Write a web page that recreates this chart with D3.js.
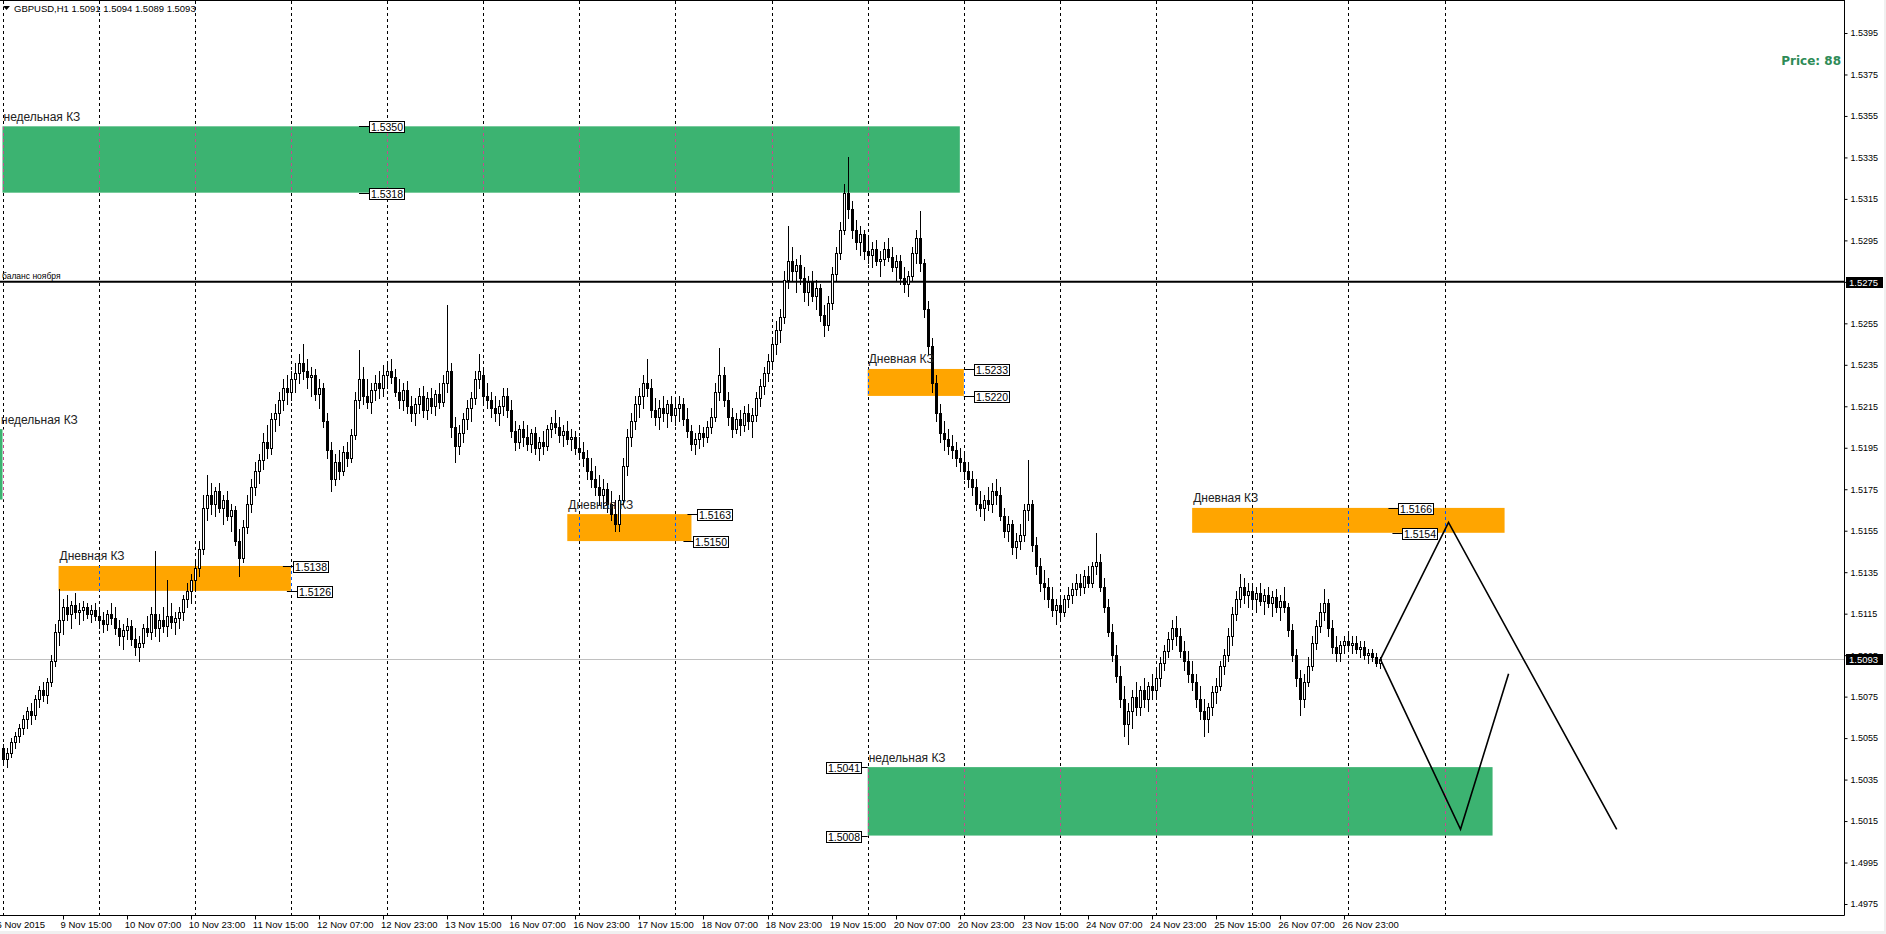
<!DOCTYPE html>
<html><head><meta charset="utf-8">
<script src="https://cdnjs.cloudflare.com/ajax/libs/d3/7.8.5/d3.min.js"></script>
<style>
html,body{margin:0;padding:0;background:#fff;overflow:hidden}
svg{display:block;font-family:"Liberation Sans",Arial,sans-serif}
</style></head><body>
<div id="chart"></div>
<script>
const W = 1886, H = 934;
const plotRight = 1844, plotBottom = 915;

// GBPUSD H1 bars, [open, high, low, close] in pips above 1.5000
const BASE = 1.5, PIP = 0.0001;
const nov09 = [[50,52,42,45],[45,50,41,48],[48,55,46,53],[53,58,50,56],[56,62,53,60],[60,66,57,64],[64,70,60,68],[68,72,62,66],[66,76,64,74],[74,80,70,78],[78,82,73,76],[76,84,72,82],[82,95,80,92],[92,110,90,106],[106,127,100,112],[112,122,105,118],[118,124,112,115],[115,121,108,119],[119,125,113,116],[116,120,110,117],[117,121,112,118],[118,120,113,115],[115,119,111,117],[117,120,112,114]];
const nov10 = [[114,118,108,112],[112,116,106,110],[110,117,107,115],[115,120,110,113],[113,118,105,108],[108,112,100,104],[104,110,98,107],[107,113,103,109],[109,112,100,103],[103,108,95,99],[99,104,92,101],[101,110,99,108],[108,114,104,106],[106,118,103,115],[115,145,104,108],[108,115,102,112],[112,118,106,109],[109,131,104,114],[114,120,108,111],[111,116,105,113],[113,118,108,116],[116,124,112,122],[122,130,118,126],[126,134,120,131]];
const nov11 = [[131,140,126,137],[137,150,133,146],[146,172,144,166],[166,182,160,172],[172,178,163,168],[168,176,162,174],[174,178,164,166],[166,172,158,170],[170,174,160,162],[162,168,155,165],[165,167,148,150],[150,156,133,142],[142,160,140,157],[157,172,154,168],[168,180,164,176],[176,188,172,184],[184,192,178,189],[189,202,185,198],[198,206,190,195],[195,212,192,209],[209,216,203,212],[212,222,206,218],[218,228,213,224],[224,230,216,222]];
const nov12 = [[222,232,218,228],[228,236,222,231],[231,240,226,236],[236,245,228,232],[232,238,224,229],[229,234,220,230],[230,233,218,221],[221,228,214,224],[224,226,205,208],[208,212,190,194],[194,198,174,180],[180,192,177,188],[188,194,180,184],[184,196,182,193],[193,198,186,190],[190,204,188,201],[201,222,199,218],[218,242,214,228],[228,234,216,220],[220,228,214,217],[217,226,212,223],[223,230,218,226],[226,232,219,224],[224,235,220,230]];
const nov13 = [[230,236,224,232],[232,238,226,229],[229,233,220,222],[222,228,214,218],[218,226,213,223],[223,227,212,215],[215,220,208,212],[212,219,206,216],[216,224,212,220],[220,225,210,213],[213,222,209,219],[219,224,212,215],[215,223,211,221],[221,226,214,217],[217,230,215,226],[226,264,222,232],[232,236,200,205],[205,210,188,196],[196,206,192,202],[202,212,198,209],[209,218,204,214],[214,222,208,219],[219,232,216,228],[228,240,224,232]];
const nov16 = [[230,234,216,220],[220,226,214,218],[218,222,210,214],[214,220,208,212],[212,218,206,215],[215,224,211,220],[220,224,210,213],[213,218,200,203],[203,208,194,198],[198,206,195,204],[204,208,196,200],[200,206,194,197],[197,204,193,202],[202,205,192,195],[195,200,189,198],[198,203,192,196],[196,206,194,204],[204,210,200,207],[207,213,202,205],[205,210,198,201],[201,206,196,203],[203,208,197,199],[199,204,194,200],[200,203,192,195]];
const nov17 = [[195,200,190,193],[193,198,186,190],[190,194,180,184],[184,190,176,180],[180,186,172,176],[176,182,168,172],[172,180,166,175],[175,178,164,168],[168,174,160,163],[163,170,155,158],[158,172,155,170],[170,190,168,186],[186,204,182,200],[200,212,196,208],[208,220,204,216],[216,224,210,220],[220,230,214,226],[226,238,220,224],[224,228,210,213],[213,219,206,210],[210,218,204,214],[214,220,208,212],[212,218,205,216],[216,220,208,211]];
const nov18 = [[211,218,206,214],[214,220,208,216],[216,219,206,209],[209,214,200,203],[203,206,194,197],[197,202,192,199],[199,206,195,202],[202,205,196,200],[200,208,198,205],[205,214,202,210],[210,226,208,222],[222,243,218,230],[230,234,215,218],[218,222,206,210],[210,214,200,204],[204,212,202,209],[209,213,201,206],[206,215,203,212],[212,216,204,208],[208,214,200,211],[211,222,208,219],[219,228,215,225],[225,234,221,231],[231,240,227,237]];
const nov19 = [[237,248,234,245],[245,256,240,252],[252,262,246,258],[258,280,255,276],[276,302,272,285],[285,292,276,280],[280,286,270,283],[283,288,274,277],[277,282,266,270],[270,278,264,275],[275,280,266,268],[268,276,262,272],[272,274,256,259],[259,264,249,254],[254,268,252,265],[265,282,262,279],[279,292,276,289],[289,304,286,300],[300,322,298,318],[318,335,306,310],[310,314,296,300],[300,305,291,294],[294,302,288,298],[298,300,286,290]];
const nov20 = [[290,296,284,288],[288,294,282,291],[291,295,283,285],[285,290,278,286],[286,294,283,291],[291,296,285,287],[287,292,280,282],[282,288,276,285],[285,288,274,277],[277,282,270,274],[274,280,268,278],[278,292,276,289],[289,300,284,296],[296,309,280,284],[284,286,258,262],[262,266,240,244],[244,248,222,226],[226,230,208,212],[212,216,198,202],[202,208,194,199],[199,204,192,196],[196,201,190,194],[194,198,186,190],[190,195,184,188]];
const nov23 = [[188,192,180,184],[184,188,176,180],[180,184,172,176],[176,180,165,168],[168,174,162,166],[166,172,160,170],[170,176,165,168],[168,178,164,174],[174,180,168,172],[172,176,160,162],[162,166,152,155],[155,162,150,158],[158,160,144,147],[147,154,142,150],[150,158,146,153],[153,168,150,165],[165,189,160,168],[168,170,145,148],[148,152,134,138],[138,142,126,130],[130,136,122,128],[128,132,118,122],[122,128,114,117],[117,122,110,119]];
const nov24 = [[119,124,112,116],[116,124,114,122],[122,128,118,124],[124,130,120,127],[127,134,124,130],[130,134,124,128],[128,136,125,133],[133,138,128,130],[130,140,128,138],[138,154,134,140],[140,144,126,128],[128,132,116,118],[118,122,104,106],[106,110,92,95],[95,100,82,85],[85,90,70,74],[74,80,56,62],[62,72,52,68],[68,78,60,75],[75,82,66,70],[70,80,66,78],[78,84,70,74],[74,82,68,80],[80,86,74,78]];
const nov25 = [[78,88,74,84],[84,94,80,91],[91,100,88,97],[97,106,94,103],[103,112,98,108],[108,114,100,104],[104,108,94,97],[97,102,88,92],[92,97,82,86],[86,92,78,82],[82,86,70,74],[74,80,64,68],[68,74,56,64],[64,72,58,70],[70,80,66,77],[77,84,72,80],[80,92,78,90],[90,98,86,95],[95,108,92,104],[104,118,100,115],[115,126,112,122],[122,134,118,128],[128,132,120,124],[124,130,118,126]];
const nov26 = [[126,130,118,122],[122,128,116,125],[125,130,119,121],[121,127,115,124],[124,128,118,120],[120,126,114,123],[123,127,116,118],[118,124,112,121],[121,128,116,118],[118,120,104,107],[107,110,92,95],[95,98,80,84],[84,88,66,74],[74,86,70,82],[82,94,80,90],[90,104,88,101],[101,112,98,109],[109,120,106,116],[116,127,112,120],[120,122,104,108],[108,112,96,99],[99,104,92,96],[96,102,92,100],[100,104,96,102]];
const nov27 = [[102,106,97,100],[100,104,96,101],[101,104,96,98],[98,102,94,99],[99,102,93,95],[95,98,91,96],[96,98,92,94],[94,96,90,91],[91,94,89,93]];
const days = [nov09, nov10, nov11, nov12, nov13, nov16, nov17, nov18, nov19, nov20, nov23, nov24, nov25, nov26, nov27];

const priceTicks = [1.5395,1.5375,1.5355,1.5335,1.5315,1.5295,1.5275,1.5255,1.5235,1.5215,1.5195,1.5175,1.5155,1.5135,1.5115,1.5095,1.5075,1.5055,1.5035,1.5015,1.4995,1.4975];
const timeLabels = ["6 Nov 2015","9 Nov 15:00","10 Nov 07:00","10 Nov 23:00","11 Nov 15:00","12 Nov 07:00","12 Nov 23:00","13 Nov 15:00","16 Nov 07:00","16 Nov 23:00","17 Nov 15:00","18 Nov 07:00","18 Nov 23:00","19 Nov 15:00","20 Nov 07:00","20 Nov 23:00","23 Nov 15:00","24 Nov 07:00","24 Nov 23:00","25 Nov 15:00","26 Nov 07:00","26 Nov 23:00"];
const timeLabelBars = [-1,15,31,47,63,79,95,111,127,143,159,175,191,207,223,239,255,271,287,303,319,335];
const gridBars = [0,24,48,72,96,120,144,168,192,216,240,264,288,312,336,360];

// zones (rectangles) : bar from/to, price top/bottom
const zoneFrom  = [-40, 0, 14, 141, 216, 297, 216];
const zoneTo    = [0, 239, 72, 172, 240, 375, 372];
const zoneTop   = [1.5204, 1.5350, 1.5138, 1.5163, 1.5233, 1.5166, 1.5041];
const zoneBot   = [1.5170, 1.5318, 1.5126, 1.5150, 1.5220, 1.5154, 1.5008];
const zoneKind  = ["week","week","day","day","day","day","week"];
const zoneNames = ["недельная КЗ","недельная КЗ","Дневная КЗ","Дневная КЗ","Дневная КЗ","Дневная КЗ","недельная КЗ"];

// price labels drawn on the zones
const tagPrices = [1.5350, 1.5318, 1.5138, 1.5126, 1.5163, 1.5150, 1.5233, 1.5220, 1.5166, 1.5154, 1.5041, 1.5008];
const tagBars   = [89, 89, 70, 71, 171, 170, 240, 240, 346, 347, 216, 216];
const tagSide   = ["r","r","r","r","r","r","r","r","r","r","l","l"];

// forecast zigzags
const pathA = [[344, 1.5093], [361, 1.5159], [403, 1.5011]];
const pathB = [[344, 1.5093], [364, 1.5011], [376, 1.5086]];

const balanceLevel = 1.5275, bidPrice = 1.5093;
const header = "GBPUSD,H1  1.5091 1.5094 1.5089 1.5093";

const colors = {week: "#3CB371", day: "#FFA500"};

const svg = d3.select("#chart").append("svg").attr("width", W).attr("height", H);
svg.append("rect").attr("width", W).attr("height", H).attr("fill", "#fff");

const x = d3.scaleLinear().domain([0, 360]).range([2.5, 1444.5]);
const y = d3.scaleLinear().domain([1.4975, 1.5395]).range([904, 33]);

svg.append("clipPath").attr("id", "plot").append("rect")
    .attr("x", 0).attr("y", 1).attr("width", plotRight).attr("height", plotBottom - 1);
const g = svg.append("g").attr("clip-path", "url(#plot)");

// grid
g.selectAll(".grid").data(gridBars).join("line")
    .attr("class", "grid")
    .attr("x1", d => Math.round(x(d)) + 0.5).attr("x2", d => Math.round(x(d)) + 0.5)
    .attr("y1", 1).attr("y2", plotBottom)
    .attr("stroke", "#000").attr("stroke-dasharray", "3,3");

// zones
const zones = zoneFrom.map((f, k) => ({f, t: zoneTo[k], top: zoneTop[k], bot: zoneBot[k], color: colors[zoneKind[k]], name: zoneNames[k]}));
g.selectAll(".zone").data(zones).join("rect")
    .attr("class", "zone")
    .attr("x", d => x(d.f)).attr("width", d => x(d.t) - x(d.f))
    .attr("y", d => y(d.top)).attr("height", d => y(d.bot) - y(d.top))
    .attr("fill", d => d.color);

// grid over zones shows inverted colour
const invert = c => { const r = d3.rgb(c); return d3.rgb(255 - r.r, 255 - r.g, 255 - r.b).formatHex(); };
const segs = [];
zones.forEach(z => gridBars.forEach(b => {
    if (x(b) >= x(z.f) - 1 && x(b) <= x(z.t)) segs.push({b, z});
}));
g.selectAll(".gseg").data(segs).join("line")
    .attr("x1", d => Math.round(x(d.b)) + 0.5).attr("x2", d => Math.round(x(d.b)) + 0.5)
    .attr("y1", d => y(d.z.top)).attr("y2", d => y(d.z.bot))
    .attr("stroke", d => invert(d.z.color)).attr("stroke-dasharray", "3,3")
    .attr("stroke-dashoffset", d => (y(d.z.top) - 1) % 6);

// horizontal levels
g.append("line").attr("x1", 0).attr("x2", plotRight).attr("y1", y(balanceLevel)).attr("y2", y(balanceLevel))
    .attr("stroke", "#000").attr("stroke-width", 2);
g.append("line").attr("x1", 0).attr("x2", plotRight)
    .attr("y1", Math.round(y(bidPrice)) + 0.5).attr("y2", Math.round(y(bidPrice)) + 0.5)
    .attr("stroke", "#C0C0C0");

// candles
const bars = days.flat().map((b, i) => ({i, o: BASE + b[0] * PIP, h: BASE + b[1] * PIP, l: BASE + b[2] * PIP, c: BASE + b[3] * PIP}));
const px = i => Math.round(x(i));
g.selectAll(".wick").data(bars).join("line")
    .attr("class", "wick")
    .attr("x1", d => px(d.i) + 0.5).attr("x2", d => px(d.i) + 0.5)
    .attr("y1", d => Math.round(y(d.h))).attr("y2", d => Math.round(y(d.l)) + 1)
    .attr("stroke", "#000");
g.selectAll(".body").data(bars).join("rect")
    .attr("class", "body")
    .attr("x", d => px(d.i) - 0.5).attr("width", 2)
    .attr("y", d => Math.round(y(Math.max(d.o, d.c))) + 0.5)
    .attr("height", d => Math.max(0.01, Math.round(y(Math.min(d.o, d.c))) - Math.round(y(Math.max(d.o, d.c)))))
    .attr("fill", d => d.c >= d.o ? "#fff" : "#000")
    .attr("stroke", "#000");

// forecast
const zig = d3.line().x(d => x(d[0])).y(d => y(d[1]));
[pathA, pathB].forEach(p => g.append("path").attr("d", zig(p))
    .attr("fill", "none").attr("stroke", "#000").attr("stroke-width", 1.6));

// zone captions
g.selectAll(".zname").data(zones).join("text")
    .attr("x", d => Math.max(0, x(d.f)) + 1).attr("y", d => y(d.top) - 5.5)
    .attr("font-size", 12).attr("fill", "#222")
    .text(d => d.name);

g.append("text").attr("x", 2).attr("y", y(balanceLevel) - 3)
    .attr("font-size", 8.5).attr("fill", "#000").text("баланс ноября");

// price tags
const tags = tagPrices.map((p, k) => ({p, b: tagBars[k], side: tagSide[k]}));
const tw = 35, th = 11;
tags.forEach(t => {
    const ax = x(t.b), ay = Math.round(y(t.p)) + 0.5;
    const bx = t.side === "r" ? Math.round(ax + 10) + 0.5 : Math.round(ax - 7 - tw) + 0.5;
    g.append("line").attr("x1", t.side === "r" ? ax : bx + tw).attr("x2", t.side === "r" ? bx : ax)
        .attr("y1", ay).attr("y2", ay).attr("stroke", "#000");
    g.append("rect").attr("x", bx).attr("y", Math.round(ay - th / 2) + 0.5).attr("width", tw).attr("height", th)
        .attr("fill", "#fff").attr("stroke", "#000");
    g.append("text").attr("x", bx + tw / 2).attr("y", ay + 4).attr("text-anchor", "middle")
        .attr("font-size", 10.5).attr("fill", "#000").text(d3.format(".4f")(t.p));
});

// frame
svg.append("line").attr("x1", 0).attr("x2", plotRight + 0.5).attr("y1", 0.5).attr("y2", 0.5).attr("stroke", "#000");
svg.append("line").attr("x1", 0).attr("x2", plotRight + 0.5).attr("y1", plotBottom + 0.5).attr("y2", plotBottom + 0.5).attr("stroke", "#000");

// price axis
const yAxis = d3.axisRight(y).tickValues(priceTicks).tickFormat(d3.format(".4f")).tickSize(3).tickPadding(3);
const ya = svg.append("g").attr("transform", `translate(${plotRight + 0.5},0)`).call(yAxis);
ya.select(".domain").attr("d", `M0,0V${plotBottom + 0.5}`);
ya.selectAll("text").attr("font-family", "Liberation Sans, Arial, sans-serif").attr("font-size", 9).attr("fill", "#000");

// current price boxes on the axis
[balanceLevel, bidPrice].forEach(p => {
    const yy = Math.round(y(p));
    svg.append("rect").attr("x", plotRight + 2).attr("y", yy - 5).attr("width", 37).attr("height", 11).attr("fill", "#000");
    svg.append("text").attr("x", plotRight + 5).attr("y", yy + 3.5).attr("font-size", 9.5).attr("fill", "#fff")
        .text(d3.format(".4f")(p));
});

// time axis
const xa = svg.append("g").attr("transform", `translate(0,${plotBottom + 0.5})`);
xa.selectAll(".tk").data(timeLabelBars).join("line")
    .attr("x1", d => Math.round(x(d)) + 0.5).attr("x2", d => Math.round(x(d)) + 0.5)
    .attr("y1", 0).attr("y2", 4).attr("stroke", "#000");
xa.selectAll(".tl").data(timeLabelBars).join("text")
    .attr("x", d => x(d) - 2).attr("y", 12.5)
    .attr("font-size", 9.5).attr("fill", "#000")
    .text((d, k) => timeLabels[k]);

// window edges
svg.append("rect").attr("x", 0).attr("y", 931).attr("width", W).attr("height", 3).attr("fill", "#f0f0f0");
svg.append("rect").attr("x", 1884).attr("y", 0).attr("width", 2).attr("height", H).attr("fill", "#f0f0f0");

// header
svg.append("path").attr("d", "M3,6 L10,6 L6.5,10 Z").attr("fill", "#000");
svg.append("text").attr("x", 14).attr("y", 12).attr("font-size", 9.5).attr("fill", "#000").text(header);

svg.append("text").attr("x", 1841).attr("y", 64.5).attr("text-anchor", "end")
    .attr("font-family", "DejaVu Sans, sans-serif").attr("font-weight", "bold").attr("font-size", 12)
    .attr("fill", "#2E8B57").text("Price: 88");
</script>
</body></html>
